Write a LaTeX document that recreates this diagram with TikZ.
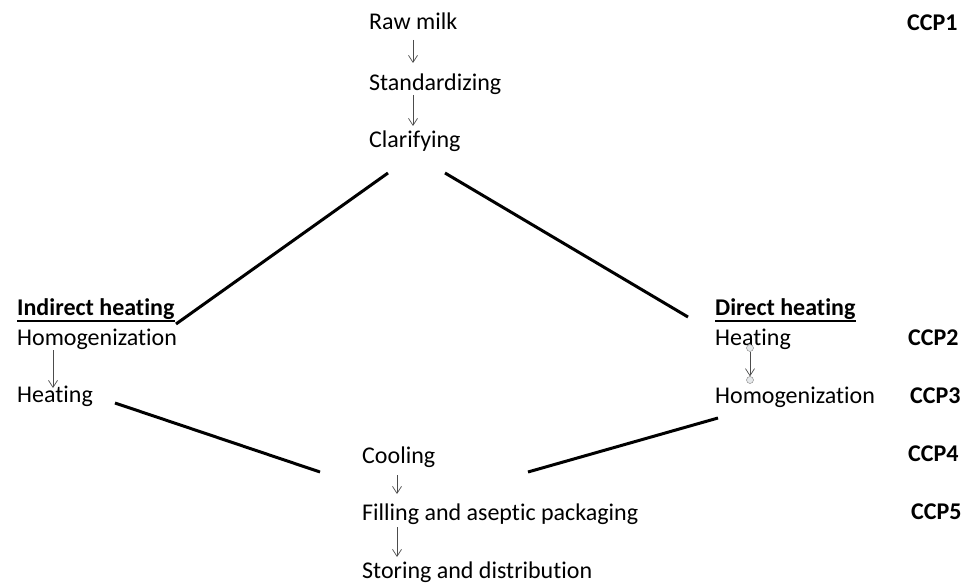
\documentclass[tikz,border=0pt]{standalone}
\usepackage{fontspec}
\setmainfont{Carlito}[Ligatures={NoCommon}]
\usetikzlibrary{arrows.meta}
\begin{document}
\begin{tikzpicture}[x=1pt,y=-1pt,
  txt/.style={anchor=base west, inner sep=0pt, font=\fontsize{24}{28}\selectfont},
  ccp/.style={txt, font=\fontsize{24}{28}\selectfont\bfseries},
  arr/.style={draw=black!70, line width=0.7pt, -{Straight Barb[length=7pt,width=9pt]}},
  thick line/.style={line width=3pt, black},
  uline/.style={line width=1.5pt, black},
  dot/.style={circle, draw=black!50, fill=cyan!10!gray!20, minimum size=7pt, inner sep=0pt}]
\useasboundingbox (0,0) rectangle (967,583);
% top chain
\node[txt] (raw) at (369,30) {Raw milk};
\node[txt] (std) at (369,91) {Standardizing};
\node[txt] (cla) at (369,148) {Clarifying};
\node[ccp] (c1) at (907,31) {CCP1};
% left branch
\node[ccp] (ind) at (17,315) {Indirect heating};
\node[txt] (homl) at (17,345) {Homogenization};
\node[txt] (heal) at (17,402) {Heating};
% right branch
\node[ccp] (dir) at (715,315) {Direct heating};
\node[txt] (hear) at (715,345) {Heating};
\node[txt] (homr) at (715,403) {Homogenization};
\node[ccp] (c2) at (908,345) {CCP2};
\node[ccp] (c3) at (910,403) {CCP3};
% bottom chain
\node[txt] (coo) at (362,463) {Cooling};
\node[txt] (fil) at (362,520) {Filling and aseptic packaging};
\node[txt] (sto) at (362,578) {Storing and distribution};
\node[ccp] (c4) at (908,461) {CCP4};
\node[ccp] (c5) at (911,519) {CCP5};
% underlines
\draw[uline] ([yshift=-6pt]ind.base west) -- ([yshift=-6pt]ind.base east);
\draw[uline] ([yshift=-6pt]dir.base west) -- ([yshift=-6pt]dir.base east);
% thin arrows
\draw[arr] ([shift={(44,10)}]raw.base west) -- ([shift={(44,-28)}]std.base west);
\draw[arr] ([shift={(44,4)}]std.base west) -- ([shift={(44,-22)}]cla.base west);
\draw[arr] ([shift={(36,5)}]homl.base west) -- ([shift={(36,-14)}]heal.base west);
\draw[arr] ([shift={(35,12)}]coo.base west) -- ([shift={(35,-26)}]fil.base west);
\draw[arr] ([shift={(35,7)}]fil.base west) -- ([shift={(35,-21)}]sto.base west);
% circle arrow
\node[dot] (d1) at ([shift={(35,3)}]hear.base west) {};
\node[dot] (d2) at ([shift={(35,-23)}]homr.base west) {};
\draw[arr] (d1) -- (d2);
% thick lines
\coordinate (l1a) at (388,173);
\coordinate (l1b) at (176,324);
\coordinate (r1a) at (445,173);
\coordinate (r1b) at (688,317);
\coordinate (l2a) at (115,403);
\coordinate (l2b) at (320,472);
\coordinate (r2a) at (718,418);
\coordinate (r2b) at (528,472);
\draw[thick line] (l1a) -- (l1b);
\draw[thick line] (r1a) -- (r1b);
\draw[thick line] (l2a) -- (l2b);
\draw[thick line] (r2a) -- (r2b);
\end{tikzpicture}
\end{document}
